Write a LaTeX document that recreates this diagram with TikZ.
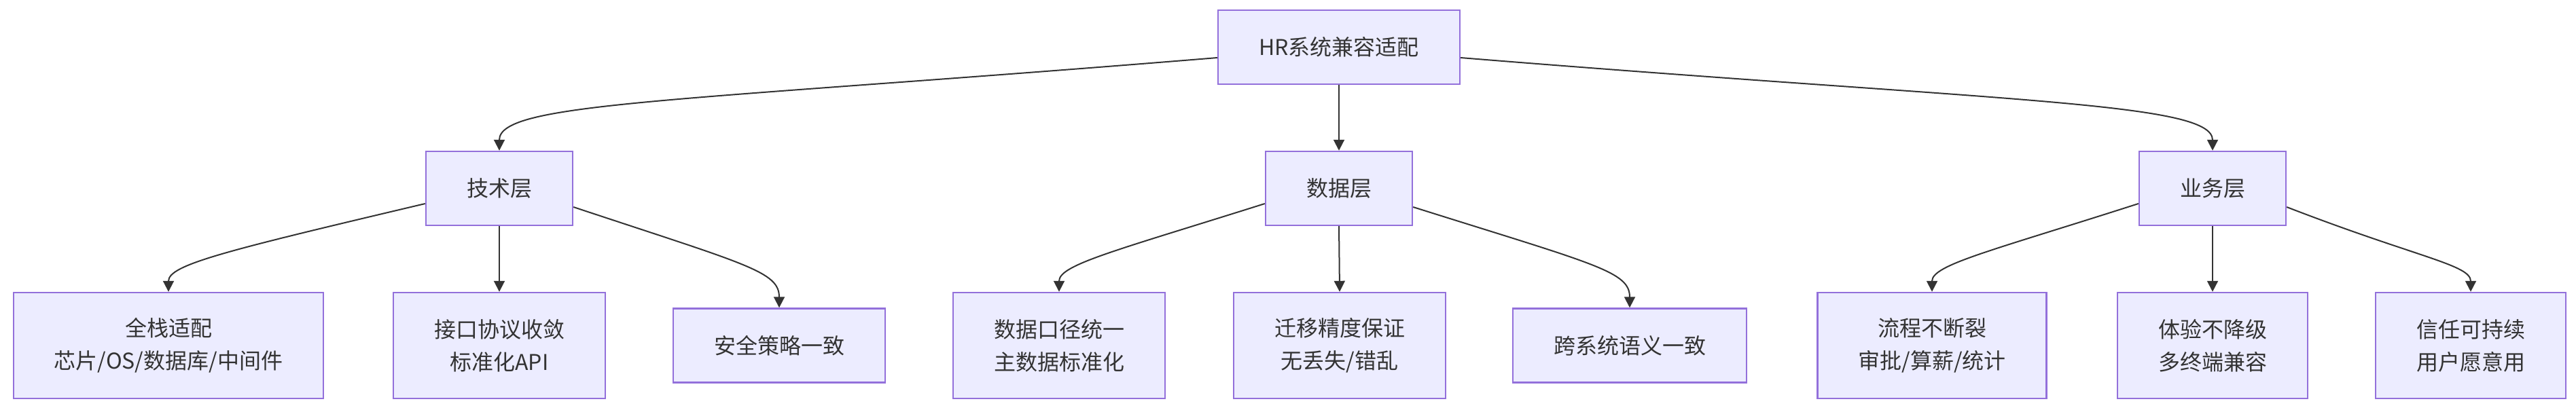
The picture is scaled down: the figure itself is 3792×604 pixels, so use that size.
\documentclass[tikz,border=0pt]{standalone}
\usepackage{fontspec}
\setmainfont{Noto Sans CJK SC}
\usetikzlibrary{arrows.meta}
\definecolor{hrFill}{HTML}{ECECFF}
\definecolor{hrLine}{HTML}{9370DB}
\definecolor{hrInk}{HTML}{333333}

\begin{document}
\begin{tikzpicture}[x=0.5pt,y=-0.5pt,
  hrBox/.style={draw=hrLine, fill=hrFill, line width=1.2pt, align=center, text=hrInk,
    inner xsep=30pt, inner ysep=0pt, minimum height=54.5pt,
    font=\fontsize{16pt}{24pt}\selectfont},
  hrLeaf/.style={hrBox, minimum height=78pt},
  hrEdge/.style={draw=hrInk, line width=1pt, -{Triangle[length=8pt,width=8pt]}}]
\useasboundingbox (0,0) rectangle (3792,604);
\node[hrBox] (root) at (1971,69.5) {HR系统兼容适配};
\node[hrBox] (tech) at (735,277.5) {技术层};
\node[hrBox] (data) at (1971,277.5) {数据层};
\node[hrBox] (biz) at (3257,277.5) {业务层};
\node[hrLeaf] (stack) at (248,509) {全栈适配\\芯片/OS/数据库/中间件};
\node[hrLeaf] (api) at (735,509) {接口协议收敛\\标准化API};
\node[hrBox] (sec) at (1147,509) {安全策略一致};
\node[hrLeaf] (caliber) at (1559,509) {数据口径统一\\主数据标准化};
\node[hrLeaf] (migrate) at (1972,509) {迁移精度保证\\无丢失/错乱};
\node[hrBox] (semantic) at (2399,509) {跨系统语义一致};
\node[hrLeaf] (flow) at (2844,509) {流程不断裂\\审批/算薪/统计};
\node[hrLeaf] (ux) at (3257,509) {体验不降级\\多终端兼容};
\node[hrLeaf] (trust) at (3637,509) {信任可持续\\用户愿意用};
\draw[hrEdge] ([yshift=-7.75pt]root.west) .. controls (1000,150) and (735,150) .. (tech.north);
\draw[hrEdge] (root.south) -- (data.north);
\draw[hrEdge] ([yshift=-7.75pt]root.east) .. controls (2950,150) and (3257,150) .. (biz.north);
\draw[hrEdge] ([yshift=-11.25pt]tech.west) .. controls (330,370) and (248,390) .. (stack.north);
\draw[hrEdge] (tech.south) -- (api.north);
\draw[hrEdge] ([yshift=-13.75pt]tech.east) .. controls (1100,390) and (1147,400) .. (sec.north);
\draw[hrEdge] ([yshift=-11.25pt]data.west) .. controls (1640,370) and (1559,390) .. (caliber.north);
\draw[hrEdge] (data.south) -- (migrate.north);
\draw[hrEdge] ([yshift=-13.75pt]data.east) .. controls (2350,390) and (2399,400) .. (semantic.north);
\draw[hrEdge] ([yshift=-11.25pt]biz.west) .. controls (2930,370) and (2844,390) .. (flow.north);
\draw[hrEdge] (biz.south) -- (ux.north);
\draw[hrEdge] ([yshift=-13.75pt]biz.east) .. controls (3560,380) and (3637,390) .. (trust.north);
\end{tikzpicture}
\end{document}
